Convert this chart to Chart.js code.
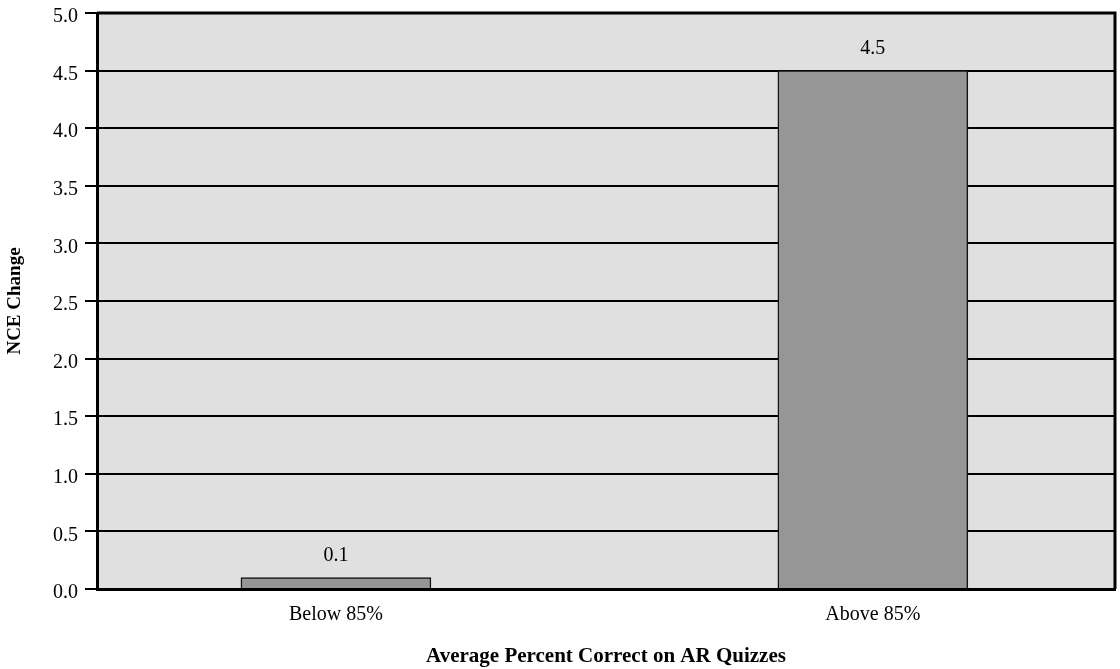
<!DOCTYPE html>
<html>
<head>
<meta charset="utf-8">
<title>NCE Change by Average Percent Correct on AR Quizzes</title>
<script src="https://cdn.jsdelivr.net/npm/chart.js@4/dist/chart.umd.min.js"></script>
<style>
  html, body { margin: 0; padding: 0; background: #ffffff; }
  #wrap { width: 1120px; height: 669px; }
</style>
</head>
<body>
<div id="wrap"><canvas id="chart" width="1120" height="669"></canvas></div>
<script>
// Groups along the x axis and their NCE change
const categories = ['Below 85%', 'Above 85%'];
const nceChange = [0.1, 4.5];
const yTicks = [0.0, 0.5, 1.0, 1.5, 2.0, 2.5, 3.0, 3.5, 4.0, 4.5, 5.0];

const FONT = "'Liberation Serif', 'Times New Roman', serif";

// Grey plot background and the frame's top/right edges
const plotFrame = {
  id: 'plotFrame',
  beforeDraw(chart) {
    const { ctx, chartArea: a } = chart;
    ctx.save();
    ctx.fillStyle = '#e0e0e0';
    ctx.fillRect(a.left, a.top, a.right - a.left, a.bottom - a.top);
    ctx.restore();
  },
  afterDraw(chart) {
    const { ctx, chartArea: a } = chart;
    ctx.save();
    ctx.strokeStyle = '#000000';
    ctx.lineWidth = 3;
    ctx.beginPath();
    ctx.moveTo(a.left, a.top);
    ctx.lineTo(a.right, a.top);
    ctx.lineTo(a.right, a.bottom);
    ctx.stroke();
    ctx.restore();
  }
};

// Value written above each bar
const barValues = {
  id: 'barValues',
  afterDatasetsDraw(chart) {
    const { ctx } = chart;
    const meta = chart.getDatasetMeta(0);
    ctx.save();
    ctx.font = '20px ' + FONT;
    ctx.fillStyle = '#000000';
    ctx.textAlign = 'center';
    ctx.textBaseline = 'middle';
    meta.data.forEach((bar, i) => {
      ctx.fillText(nceChange[i].toFixed(1), bar.x, bar.y - 22);
    });
    ctx.restore();
  }
};

new Chart(document.getElementById('chart'), {
  type: 'bar',
  data: {
    datasets: [{
      data: categories.map((c, i) => ({ x: i, y: nceChange[i] })),
      backgroundColor: '#969696',
      borderColor: '#111111',
      borderWidth: 1.5,
      barThickness: 190
    }]
  },
  options: {
    responsive: false,
    animation: false,
    layout: { padding: { left: 0, right: 5, top: 13, bottom: 0 } },
    plugins: {
      legend: { display: false },
      tooltip: { enabled: false }
    },
    scales: {
      x: {
        type: 'linear',
        offset: false,
        min: -0.445,
        max: 1.451,
        grid: { display: false },
        border: { display: true, color: '#000000', width: 3 },
        afterBuildTicks(scale) {
          scale.ticks = categories.map((c, i) => ({ value: i }));
        },
        afterFit(scale) {
          scale.height = 80;
          scale.paddingLeft = 0;
          scale.paddingRight = 0;
        },
        ticks: {
          padding: 6,
          maxRotation: 0,
          autoSkip: false,
          color: '#000000',
          font: { family: FONT, size: 20 },
          callback: (v) => categories[v] ?? ''
        },
        title: {
          display: true,
          text: 'Average Percent Correct on AR Quizzes',
          color: '#000000',
          font: { family: FONT, size: 21, weight: 'bold' },
          padding: { top: 0, bottom: 0 }
        }
      },
      y: {
        min: 0,
        max: 5,
        afterBuildTicks(scale) {
          scale.ticks = yTicks.map(v => ({ value: v }));
        },
        afterFit(scale) {
          scale.width = 97;
          scale.paddingTop = 0;
          scale.paddingBottom = 0;
        },
        grid: {
          color: '#000000',
          lineWidth: 2,
          drawTicks: true,
          tickLength: 12,
          tickColor: '#000000',
          tickWidth: 2
        },
        border: { display: true, color: '#000000', width: 3 },
        ticks: {
          padding: 7,
          labelOffset: 4,
          color: '#000000',
          font: { family: FONT, size: 20 },
          callback: (v) => Number(v).toFixed(1)
        },
        title: {
          display: true,
          text: 'NCE Change',
          color: '#000000',
          font: { family: FONT, size: 19, weight: 'bold' },
          padding: { top: 4, bottom: 0 }
        }
      }
    }
  },
  plugins: [plotFrame, barValues]
});
</script>
</body>
</html>
